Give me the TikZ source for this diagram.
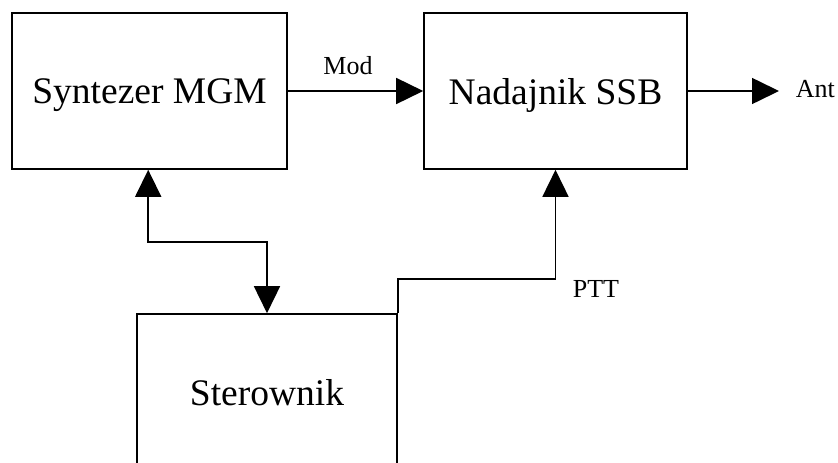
\documentclass[tikz,border=0pt]{standalone}
\usepackage{fontspec}
\setmainfont{Liberation Serif}
\usetikzlibrary{arrows.meta}
\begin{document}
\begin{tikzpicture}[x=1pt, y=-1pt, line width=1.6pt, line join=miter, >={Triangle[length=27pt,width=26pt]},
	blok/.style={draw, minimum height=156pt, text depth=0pt, inner sep=0pt, font=\fontsize{37.5}{40}\selectfont},
	opis/.style={inner sep=0pt, font=\fontsize{26}{28}\selectfont}]
	\useasboundingbox (0,0) rectangle (838,463);
	\clip (0,0) rectangle (838,463);
	% Bloki
	\node[blok, minimum width=275pt] (syn) at (149.5,91) {Syntezer MGM};
	\node[blok, minimum width=263pt] (nad) at (555.5,91) {Nadajnik SSB};
	\node[blok, minimum width=260pt] (ster) at (267,392) {Sterownik};
	\coordinate (antena) at (779,91);
	% Polaczenia
	\draw[->] (syn.east)--(nad.west);
	\draw[->] (nad.east)--(antena);
	\draw[<->] ([xshift=137pt]syn.south west)--++(0,72)-|(ster.north);
	\draw[->] (ster.north east)--++(0,-34)-|(nad.south);
	% Opisy
	\node[opis, anchor=base] (mod) at (348,74) {Mod};
	\node[opis, anchor=base west] (ant) at (795,97) {Ant};
	\node[opis, anchor=base west] (ptt) at (572,297) {PTT};
\end{tikzpicture}
\end{document}
